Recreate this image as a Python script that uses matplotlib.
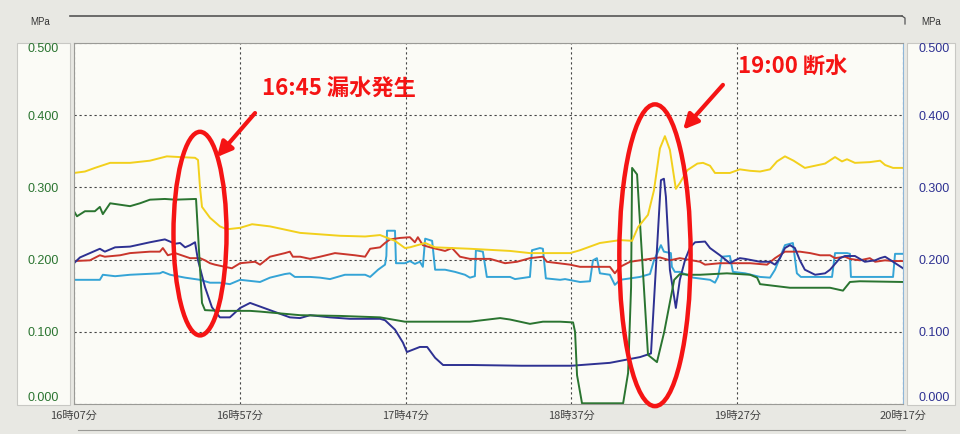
import numpy as np
import matplotlib
matplotlib.use('Agg')
import matplotlib.pyplot as plt
from matplotlib.patches import Ellipse, Rectangle
from matplotlib.lines import Line2D

plt.rcParams['font.family'] = ['Liberation Sans', 'Noto Sans CJK JP', 'DejaVu Sans']

# minutes after 16:07, pressure in MPa
yellow_t = [0, 3.3, 6.3, 10.9, 16.9, 22.9, 28.0, 32.0, 36.5, 37.4, 38.0, 38.6, 41.0, 44.0, 46.1,
            50.1, 53.7, 59.1, 68.2, 80.2, 87.8, 92.3, 96.8, 99.8, 101.3, 105.9, 108.9, 119.4,
            131.5, 137.5, 149.6, 152.6, 158.6, 164.7, 168.3, 170.1, 173.1, 174.9, 176.7, 178.2,
            179.7, 181.5, 182.7, 185.0, 188.0, 189.7, 191.8, 193.3, 197.8, 200.8, 203.9, 206.9,
            209.9, 212.0, 214.4, 217.0, 220.4, 226.5, 229.5, 231.6, 233.1, 235.5, 240.0, 243.1,
            244.6, 247.0, 250.0]
yellow_v = [0.320, 0.322, 0.327, 0.334, 0.334, 0.337, 0.343, 0.342, 0.341, 0.338, 0.300, 0.273,
            0.258, 0.246, 0.242, 0.244, 0.249, 0.246, 0.237, 0.233, 0.232, 0.234, 0.226, 0.216,
            0.217, 0.223, 0.217, 0.215, 0.212, 0.209, 0.209, 0.213, 0.223, 0.227, 0.226, 0.245,
            0.262, 0.296, 0.354, 0.371, 0.352, 0.298, 0.306, 0.324, 0.333, 0.334, 0.330, 0.320,
            0.320, 0.325, 0.323, 0.322, 0.325, 0.336, 0.343, 0.337, 0.327, 0.333, 0.342, 0.336,
            0.339, 0.334, 0.335, 0.337, 0.331, 0.327, 0.327]

green_t = [0, 0.9, 3.3, 6.3, 7.8, 8.7, 10.9, 13.9, 16.9, 19.9, 22.9, 27.4, 30.5, 36.8, 38.6,
           39.5, 44.0, 53.1, 56.1, 68.2, 80.2, 92.3, 99.8, 110.4, 119.4, 128.5, 131.5, 137.5,
           141.4, 146.6, 150.5, 151.1, 151.7, 153.2, 165.6, 167.1, 168.0, 168.3, 169.8, 173.1,
           175.8, 178.0, 181.0, 182.7, 185.8, 188.8, 196.9, 203.9, 206.0, 206.9, 215.9, 228.0,
           231.9, 234.0, 237.0, 250.0]
green_v = [0.267, 0.260, 0.267, 0.267, 0.273, 0.263, 0.278, 0.276, 0.274, 0.278, 0.283, 0.284,
           0.283, 0.284, 0.140, 0.130, 0.129, 0.129, 0.128, 0.123, 0.122, 0.120, 0.114, 0.114,
           0.114, 0.119, 0.117, 0.111, 0.114, 0.114, 0.113, 0.100, 0.040, 0.001, 0.001, 0.043,
           0.162, 0.327, 0.318, 0.068, 0.058, 0.100, 0.172, 0.180, 0.179, 0.179, 0.181, 0.179,
           0.175, 0.166, 0.161, 0.161, 0.157, 0.169, 0.170, 0.169]

blue_t = [0, 1.8, 4.8, 7.8, 9.3, 12.4, 16.9, 22.9, 27.4, 30.5, 32.0, 33.5, 35.0, 36.5, 37.4,
          39.5, 41.6, 44.0, 47.0, 50.1, 53.1, 59.1, 65.1, 68.2, 71.2, 77.2, 83.2, 92.3, 93.8,
          96.8, 99.2, 100.4, 104.3, 106.5, 108.9, 111.3, 120.0, 135.0, 150.0, 161.6, 170.7,
          174.0, 177.0, 177.9, 178.5, 179.7, 181.5, 182.7, 184.3, 185.8, 187.3, 190.3, 191.8,
          194.8, 197.8, 199.3, 200.8, 202.4, 206.9, 209.9, 211.4, 212.9, 214.4, 215.9, 217.4,
          218.9, 220.4, 223.5, 226.5, 228.0, 231.0, 232.5, 235.5, 238.5, 241.6, 243.1, 244.6,
          247.0, 250.0]
blue_v = [0.195, 0.203, 0.209, 0.215, 0.211, 0.217, 0.218, 0.224, 0.228, 0.222, 0.223, 0.217,
          0.220, 0.224, 0.199, 0.162, 0.134, 0.120, 0.120, 0.133, 0.140, 0.130, 0.120, 0.119,
          0.123, 0.120, 0.118, 0.118, 0.116, 0.103, 0.085, 0.072, 0.079, 0.079, 0.064, 0.054,
          0.054, 0.053, 0.053, 0.057, 0.065, 0.070, 0.310, 0.312, 0.287, 0.186, 0.133, 0.172,
          0.200, 0.217, 0.224, 0.225, 0.216, 0.206, 0.195, 0.199, 0.202, 0.201, 0.197, 0.197,
          0.193, 0.202, 0.216, 0.220, 0.216, 0.199, 0.186, 0.179, 0.181, 0.186, 0.202, 0.205,
          0.205, 0.197, 0.199, 0.202, 0.204, 0.197, 0.188]

red_t = [0, 4.8, 7.8, 9.3, 13.9, 16.9, 22.9, 25.9, 26.8, 28.3, 30.5, 35.0, 38.0, 39.5, 41.0,
         42.5, 45.5, 47.6, 50.1, 54.6, 56.1, 59.1, 63.6, 65.1, 66.0, 68.2, 71.2, 74.2, 78.7,
         84.7, 87.8, 89.3, 92.3, 93.8, 95.3, 98.3, 101.3, 102.8, 103.7, 105.2, 107.4, 111.9,
         114.0, 116.4, 119.4, 125.5, 130.0, 133.6, 137.5, 141.4, 142.6, 149.6, 152.6, 155.6,
         161.6, 163.1, 164.7, 167.7, 170.7, 176.7, 179.7, 182.7, 188.8, 190.3, 194.8, 199.3,
         203.9, 209.0, 211.4, 214.4, 218.9, 222.0, 225.0, 228.0, 229.5, 232.5, 234.0, 237.0,
         240.0, 241.6, 244.6, 247.0, 250.0]
red_v = [0.198, 0.199, 0.206, 0.204, 0.206, 0.209, 0.211, 0.211, 0.216, 0.206, 0.209, 0.202,
         0.202, 0.199, 0.195, 0.193, 0.190, 0.188, 0.195, 0.197, 0.193, 0.204, 0.209, 0.211,
         0.204, 0.204, 0.201, 0.204, 0.209, 0.206, 0.204, 0.215, 0.217, 0.223, 0.228, 0.230,
         0.231, 0.224, 0.231, 0.220, 0.217, 0.212, 0.216, 0.204, 0.201, 0.201, 0.195, 0.197,
         0.202, 0.204, 0.197, 0.193, 0.190, 0.190, 0.190, 0.181, 0.190, 0.197, 0.199, 0.203,
         0.199, 0.202, 0.197, 0.193, 0.195, 0.195, 0.195, 0.193, 0.202, 0.211, 0.211, 0.209,
         0.206, 0.206, 0.202, 0.204, 0.201, 0.199, 0.202, 0.197, 0.199, 0.198, 0.198]

cyan_t = [0, 7.8, 8.7, 12.4, 16.9, 25.9, 26.8, 29.0, 33.5, 38.0, 41.0, 44.0, 47.0, 50.1, 56.1,
          59.1, 63.6, 65.1, 66.6, 71.2, 74.2, 77.2, 81.7, 87.8, 89.3, 91.7, 93.8, 94.2, 94.4,
          96.8, 97.1, 99.8, 101.3, 102.8, 104.3, 105.2, 105.9, 108.0, 108.9, 111.9, 114.9,
          117.9, 119.4, 120.9, 121.2, 123.3, 124.5, 131.5, 133.0, 136.0, 137.5, 138.1, 140.5,
          141.4, 142.3, 146.6, 148.1, 152.6, 155.6, 156.5, 157.7, 158.6, 161.6, 163.1, 164.7,
          170.7, 173.7, 174.9, 177.0, 177.9, 180.0, 180.3, 181.2, 182.7, 186.7, 191.8, 193.3,
          194.2, 195.4, 197.8, 198.7, 202.4, 206.9, 209.9, 211.4, 214.4, 216.8, 218.0, 219.2,
          228.6, 229.5, 233.1, 234.0, 234.3, 247.0, 247.6, 250.0]
cyan_v = [0.172, 0.172, 0.179, 0.177, 0.179, 0.181, 0.183, 0.179, 0.175, 0.172, 0.168, 0.168,
          0.166, 0.172, 0.169, 0.175, 0.180, 0.181, 0.176, 0.176, 0.175, 0.173, 0.179, 0.179,
          0.176, 0.186, 0.193, 0.205, 0.240, 0.240, 0.195, 0.195, 0.198, 0.194, 0.197, 0.190,
          0.229, 0.226, 0.186, 0.186, 0.183, 0.179, 0.175, 0.177, 0.213, 0.211, 0.176, 0.176,
          0.173, 0.175, 0.176, 0.213, 0.216, 0.215, 0.174, 0.172, 0.173, 0.169, 0.170, 0.199,
          0.202, 0.181, 0.179, 0.165, 0.172, 0.176, 0.180, 0.199, 0.220, 0.211, 0.209, 0.190,
          0.183, 0.183, 0.175, 0.172, 0.168, 0.176, 0.204, 0.205, 0.183, 0.181, 0.176, 0.175,
          0.186, 0.220, 0.223, 0.181, 0.176, 0.176, 0.209, 0.209, 0.208, 0.176, 0.176, 0.208,
          0.208]

x_ticks = [0, 50, 100, 150, 200, 250]
x_labels = ['16時07分', '16時57分', '17時47分', '18時37分', '19時27分', '20時17分']
y_ticks = [0.0, 0.1, 0.2, 0.3, 0.4, 0.5]

C_Y = '#f2d01c'
C_G = '#2a7430'
C_B = '#2e3192'
C_R = '#c9362c'
C_C = '#35a4d6'
C_ANN = '#f51414'
BG = '#e8e8e3'
PANEL = '#fbfbf6'

fig = plt.figure(figsize=(9.6, 4.34), dpi=100)
fig.patch.set_facecolor(BG)

def px(x, y):
    return x / 960, 1 - y / 434

# label panels left and right (behind the axes)
for x0, x1 in [(17, 70), (907, 955)]:
    (a, b), (c, d) = px(x0, 405), px(x1, 43)
    fig.add_artist(Rectangle((a, b), c - a, d - b, transform=fig.transFigure,
                             facecolor=PANEL, edgecolor='#c8c8c4', lw=0.8, zorder=-5))

ax = fig.add_axes([74 / 960, 30 / 434, 829 / 960, 361 / 434])
ax.set_facecolor(PANEL)
ax.set_xlim(0, 250)
ax.set_ylim(0, 0.5)

for t, v, c in [(cyan_t, cyan_v, C_C), (red_t, red_v, C_R), (blue_t, blue_v, C_B),
                (green_t, green_v, C_G), (yellow_t, yellow_v, C_Y)]:
    ax.plot(t, v, color=c, lw=1.4, solid_joinstyle='round')

ax.set_xticks(x_ticks)
ax.set_xticklabels(x_labels, fontsize=8, color='#444444', family=['Noto Sans CJK JP'])
ax.set_yticks(y_ticks)
ax.set_yticklabels([f'{v:.3f}' for v in y_ticks], fontsize=9, color=C_G)
ax.tick_params(axis='both', length=0)
ax.tick_params(axis='y', pad=11)
ax.tick_params(axis='x', pad=5)
ax.grid(True, color='#444444', ls=(0, (2, 2.5)), lw=0.8)
for s in ['left', 'bottom', 'top']:
    ax.spines[s].set_color('#9a9a96')
ax.spines['right'].set_color('#8fb6d8')

ax2 = ax.twinx()
ax2.set_ylim(0, 0.5)
ax2.set_yticks(y_ticks)
ax2.set_yticklabels([f'{v:.3f}' for v in y_ticks], fontsize=9, color=C_B)
ax2.tick_params(axis='y', length=0, pad=11)
for s in ax2.spines.values():
    s.set_visible(False)

# nudge the end labels inward like the logger screen does
for a in (ax, ax2):
    labs = a.get_yticklabels()
    labs[0].set_va('bottom')
    labs[-1].set_va('top')

# annotations
ax.add_patch(Ellipse((38.0, 0.236), 16.0, 0.282, fill=False, edgecolor=C_ANN, lw=3.2,
                     clip_on=False, zorder=6))
ax.add_patch(Ellipse((175.2, 0.206), 21.5, 0.418, fill=False, edgecolor=C_ANN, lw=3.2,
                     clip_on=False, zorder=6))
arrow = dict(arrowstyle='-|>', color=C_ANN, lw=3, mutation_scale=22, shrinkA=0, shrinkB=0)
ax.annotate('', xy=(43.1, 0.342), xytext=(54.6, 0.403), arrowprops=arrow, zorder=7)
ax.annotate('', xy=(183.7, 0.380), xytext=(195.7, 0.442), arrowprops=arrow, zorder=7)
ax.text(56.7, 0.438, '16:45 漏水発生', color=C_ANN, fontsize=16, fontweight='bold',
        va='center', ha='left', family=['Noto Sans CJK JP'], zorder=7)
ax.text(200.2, 0.467, '19:00 断水', color=C_ANN, fontsize=16, fontweight='bold',
        va='center', ha='left', family=['Noto Sans CJK JP'], zorder=7)

# header / footer
fig.text(*px(40, 22), 'MPa', fontsize=7, color='#333333', ha='center', va='center')
fig.text(*px(931, 22), 'MPa', fontsize=7, color='#333333', ha='center', va='center')
fig.add_artist(Line2D([70 / 960, 902 / 960], [1 - 16 / 434] * 2, color='#555555', lw=1.2))
fig.add_artist(Line2D([902 / 960, 905 / 960, 905 / 960], [1 - 16 / 434, 1 - 18 / 434, 1 - 24 / 434],
                      color='#555555', lw=0.9))
fig.add_artist(Line2D([78 / 960, 905 / 960], [1 - 430 / 434] * 2, color='#9a9a96', lw=0.8))

fig.savefig('out.png', dpi=100, facecolor=fig.get_facecolor())
